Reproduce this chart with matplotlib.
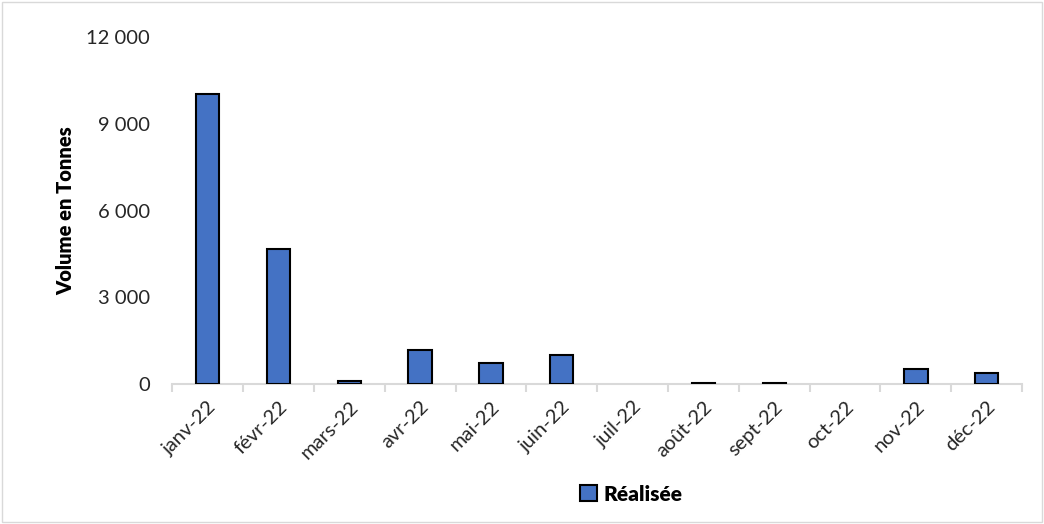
import matplotlib
matplotlib.use("Agg")
import matplotlib.pyplot as plt
import matplotlib.ticker as mticker
from matplotlib.patches import Rectangle

# ─── Données ──────────────────────────────────────────────────────────────────
mois = ["janv-22", "févr-22", "mars-22", "avr-22", "mai-22", "juin-22",
        "juil-22", "août-22", "sept-22", "oct-22", "nov-22", "déc-22"]
realisee = [10050, 4670, 90, 1180, 720, 1010, 0, 30, 30, 0, 510, 400]
yticks = [0, 3000, 6000, 9000, 12000]

BLEU = "#4472C4"
GRIS = "#D9D9D9"

plt.rcParams["font.family"] = ["Lato", "DejaVu Sans"]

fig = plt.figure(figsize=(10.44, 5.24), dpi=100)
ax = fig.add_axes([0.165, 0.267, 0.814, 0.662])

x = list(range(len(mois)))
# pas de contour pour les mois à zéro
epaisseurs = [1.5 if v > 0 else 0 for v in realisee]
ax.bar(x, realisee, width=0.33, color=BLEU, edgecolor="black", linewidth=epaisseurs,
       label="Réalisée", zorder=3)

ax.set_xlim(-0.5, len(mois) - 0.5)
ax.set_ylim(0, 12000)
ax.set_yticks(yticks)
ax.yaxis.set_major_formatter(mticker.FuncFormatter(lambda v, p: f"{v:,.0f}".replace(",", " ")))
ax.tick_params(axis="y", length=0, labelsize=14.5, pad=16, colors="#262626")

ax.set_xticks(x)
ax.set_xticklabels(mois, rotation=45, ha="right", rotation_mode="anchor", fontsize=14.5, color="#262626")
ax.xaxis.set_minor_locator(mticker.FixedLocator([i - 0.5 for i in range(len(mois) + 1)]))
ax.tick_params(axis="x", which="major", length=0, pad=10)
ax.tick_params(axis="x", which="minor", length=6, color=GRIS, width=1.5)

for s in ["top", "right", "left"]:
    ax.spines[s].set_visible(False)
ax.spines["bottom"].set_color(GRIS)
ax.spines["bottom"].set_linewidth(1.5)

ax.set_ylabel("Volume en Tonnes", fontsize=14.5, fontweight="heavy", labelpad=8)

leg = ax.legend(loc="center", bbox_to_anchor=(0.54, -0.317), frameon=False,
                prop={"weight": "heavy", "size": 15}, handlelength=0.8, handleheight=0.8,
                handletextpad=0.3)
for h in leg.legend_handles:
    h.set_linewidth(1.5)

# cadre du graphique
fig.patches.append(Rectangle((0.002, 0.004), 0.996, 0.992, transform=fig.transFigure,
                             fill=False, edgecolor=GRIS, linewidth=1))

fig.savefig("out.png", dpi=100)
